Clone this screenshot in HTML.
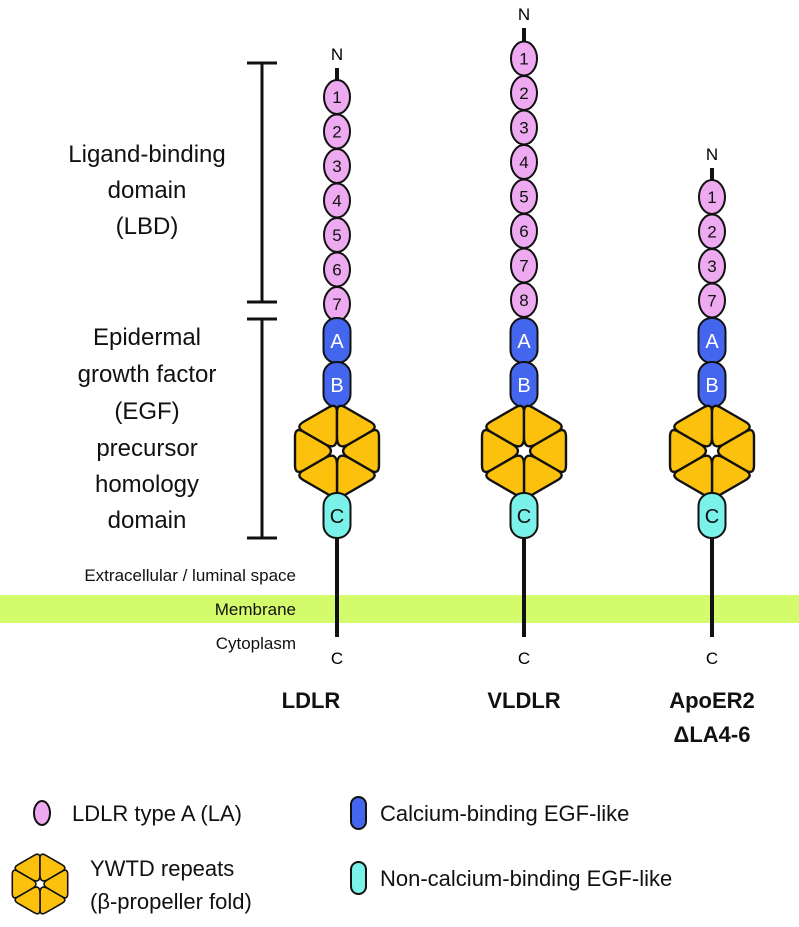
<!DOCTYPE html>
<html><head><meta charset="utf-8"><style>
html,body{margin:0;padding:0;background:#fff;}
svg{display:block;font-family:"Liberation Sans",Arial,sans-serif;}
</style></head><body>
<svg width="799" height="927" viewBox="0 0 799 927" xmlns="http://www.w3.org/2000/svg">
<defs>
<g id="prop">
  <g id="tri"><path d="M12.12,-7 L33.34,-19.25 Q42,-24.25 42,-14.25 L42,14.25 Q42,24.25 33.34,19.25 L12.12,7 Q0,0 12.12,-7 Z" fill="#fcc10d" stroke="#111" stroke-width="2.4" stroke-linejoin="round"/></g>
  <use href="#tri" transform="rotate(60)"/>
  <use href="#tri" transform="rotate(120)"/>
  <use href="#tri" transform="rotate(180)"/>
  <use href="#tri" transform="rotate(240)"/>
  <use href="#tri" transform="rotate(300)"/>
</g>
</defs>
<rect x="0" y="595" width="799" height="28" fill="#d4fb6c"/>

<!-- brackets -->
<g stroke="#111" stroke-width="3">
<line x1="262" y1="63" x2="262" y2="302"/><line x1="247" y1="63" x2="277" y2="63"/><line x1="247" y1="302" x2="277" y2="302"/>
<line x1="262" y1="319" x2="262" y2="538"/><line x1="247" y1="319" x2="277" y2="319"/><line x1="247" y1="538" x2="277" y2="538"/>
</g>
<g font-size="24" fill="#111" text-anchor="middle">
<text x="147" y="162">Ligand-binding</text><text x="147" y="198">domain</text><text x="147" y="234">(LBD)</text>
<text x="147" y="345">Epidermal</text><text x="147" y="382">growth factor</text><text x="147" y="419">(EGF)</text>
<text x="147" y="456">precursor</text><text x="147" y="492">homology</text><text x="147" y="528">domain</text>
</g>
<g font-size="17" fill="#111" text-anchor="end">
<text x="296" y="581">Extracellular / luminal space</text>
<text x="296" y="615">Membrane</text>
<text x="296" y="649">Cytoplasm</text>
</g>

<!-- LDLR -->
<g>
<line x1="337" y1="68" x2="337" y2="80" stroke="#111" stroke-width="4"/>
<line x1="337" y1="530" x2="337" y2="637" stroke="#111" stroke-width="4"/>
<text x="337" y="60" font-size="17" text-anchor="middle">N</text>
<text x="337" y="664" font-size="17" text-anchor="middle">C</text>
<g fill="#eeaaf0" stroke="#111" stroke-width="2">
<ellipse cx="337" cy="97" rx="13" ry="17"/><ellipse cx="337" cy="131.5" rx="13" ry="17"/><ellipse cx="337" cy="166" rx="13" ry="17"/><ellipse cx="337" cy="200.5" rx="13" ry="17"/><ellipse cx="337" cy="235" rx="13" ry="17"/><ellipse cx="337" cy="269.5" rx="13" ry="17"/><ellipse cx="337" cy="304" rx="13" ry="17"/>
</g>
<g font-size="17" text-anchor="middle" fill="#111">
<text x="337" y="103">1</text><text x="337" y="137.5">2</text><text x="337" y="172">3</text><text x="337" y="206.5">4</text><text x="337" y="241">5</text><text x="337" y="275.5">6</text><text x="337" y="310">7</text>
</g>
<rect x="323.5" y="318" width="27" height="45" rx="13" fill="#4466ee" stroke="#111" stroke-width="2"/>
<rect x="323.5" y="362" width="27" height="45" rx="13" fill="#4466ee" stroke="#111" stroke-width="2"/>
<text x="337" y="348" font-size="20" fill="#fff" text-anchor="middle">A</text>
<text x="337" y="392" font-size="20" fill="#fff" text-anchor="middle">B</text>
<use href="#prop" transform="translate(337,451)"/>
<rect x="323.5" y="493" width="27" height="45" rx="13" fill="#7af2ea" stroke="#111" stroke-width="2"/>
<text x="337" y="523" font-size="20" fill="#111" text-anchor="middle">C</text>
</g>

<!-- VLDLR -->
<g>
<line x1="524" y1="28" x2="524" y2="42" stroke="#111" stroke-width="4"/>
<line x1="524" y1="530" x2="524" y2="637" stroke="#111" stroke-width="4"/>
<text x="524" y="20" font-size="17" text-anchor="middle">N</text>
<text x="524" y="664" font-size="17" text-anchor="middle">C</text>
<g fill="#eeaaf0" stroke="#111" stroke-width="2">
<ellipse cx="524" cy="58.5" rx="13" ry="17"/><ellipse cx="524" cy="93" rx="13" ry="17"/><ellipse cx="524" cy="127.5" rx="13" ry="17"/><ellipse cx="524" cy="162" rx="13" ry="17"/><ellipse cx="524" cy="196.5" rx="13" ry="17"/><ellipse cx="524" cy="231" rx="13" ry="17"/><ellipse cx="524" cy="265.5" rx="13" ry="17"/><ellipse cx="524" cy="300" rx="13" ry="17"/>
</g>
<g font-size="17" text-anchor="middle" fill="#111">
<text x="524" y="64.5">1</text><text x="524" y="99">2</text><text x="524" y="133.5">3</text><text x="524" y="168">4</text><text x="524" y="202.5">5</text><text x="524" y="237">6</text><text x="524" y="271.5">7</text><text x="524" y="306">8</text>
</g>
<rect x="510.5" y="318" width="27" height="45" rx="13" fill="#4466ee" stroke="#111" stroke-width="2"/>
<rect x="510.5" y="362" width="27" height="45" rx="13" fill="#4466ee" stroke="#111" stroke-width="2"/>
<text x="524" y="348" font-size="20" fill="#fff" text-anchor="middle">A</text>
<text x="524" y="392" font-size="20" fill="#fff" text-anchor="middle">B</text>
<use href="#prop" transform="translate(524,451)"/>
<rect x="510.5" y="493" width="27" height="45" rx="13" fill="#7af2ea" stroke="#111" stroke-width="2"/>
<text x="524" y="523" font-size="20" fill="#111" text-anchor="middle">C</text>
</g>

<!-- ApoER2 -->
<g>
<line x1="712" y1="168" x2="712" y2="180" stroke="#111" stroke-width="4"/>
<line x1="712" y1="530" x2="712" y2="637" stroke="#111" stroke-width="4"/>
<text x="712" y="160" font-size="17" text-anchor="middle">N</text>
<text x="712" y="664" font-size="17" text-anchor="middle">C</text>
<g fill="#eeaaf0" stroke="#111" stroke-width="2">
<ellipse cx="712" cy="197" rx="13" ry="17"/><ellipse cx="712" cy="231.5" rx="13" ry="17"/><ellipse cx="712" cy="266" rx="13" ry="17"/><ellipse cx="712" cy="300.5" rx="13" ry="17"/>
</g>
<g font-size="17" text-anchor="middle" fill="#111">
<text x="712" y="203">1</text><text x="712" y="237.5">2</text><text x="712" y="272">3</text><text x="712" y="306.5">7</text>
</g>
<rect x="698.5" y="318" width="27" height="45" rx="13" fill="#4466ee" stroke="#111" stroke-width="2"/>
<rect x="698.5" y="362" width="27" height="45" rx="13" fill="#4466ee" stroke="#111" stroke-width="2"/>
<text x="712" y="348" font-size="20" fill="#fff" text-anchor="middle">A</text>
<text x="712" y="392" font-size="20" fill="#fff" text-anchor="middle">B</text>
<use href="#prop" transform="translate(712,451)"/>
<rect x="698.5" y="493" width="27" height="45" rx="13" fill="#7af2ea" stroke="#111" stroke-width="2"/>
<text x="712" y="523" font-size="20" fill="#111" text-anchor="middle">C</text>
</g>

<g font-size="22" font-weight="bold" text-anchor="middle" fill="#111">
<text x="311" y="708">LDLR</text>
<text x="524" y="708">VLDLR</text>
<text x="712" y="708">ApoER2</text>
<text x="712" y="742">ΔLA4-6</text>
</g>

<!-- legend -->
<ellipse cx="42" cy="813" rx="8" ry="12" fill="#eeaaf0" stroke="#111" stroke-width="2"/>
<text x="72" y="821" font-size="22" fill="#111">LDLR type A (LA)</text>
<rect x="351" y="797" width="15" height="32" rx="7.5" fill="#4466ee" stroke="#111" stroke-width="2"/>
<text x="380" y="821" font-size="22" fill="#111">Calcium-binding EGF-like</text>
<use href="#prop" transform="translate(40,884) scale(0.66)"/>
<text x="90" y="876" font-size="22" fill="#111">YWTD repeats</text>
<text x="90" y="909" font-size="22" fill="#111">(β-propeller fold)</text>
<rect x="351" y="862" width="15" height="32" rx="7.5" fill="#7af2ea" stroke="#111" stroke-width="2"/>
<text x="380" y="886" font-size="22" fill="#111">Non-calcium-binding EGF-like</text>
</svg>
</body></html>
